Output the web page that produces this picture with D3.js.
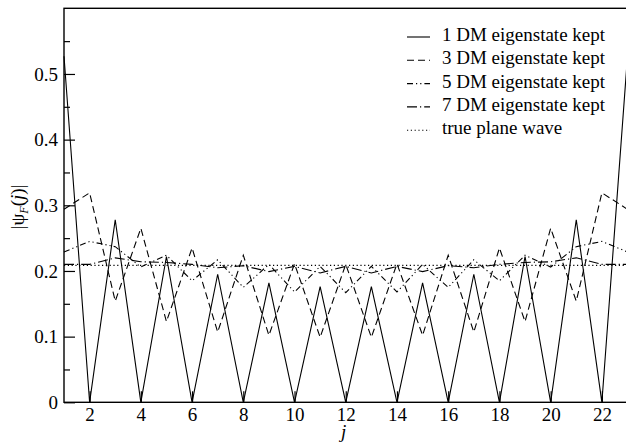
<!DOCTYPE html>
<html>
<head>
<meta charset="utf-8">
<script src="https://cdn.jsdelivr.net/npm/d3@7"></script>
<style>
  html, body { margin: 0; padding: 0; background: #fff; }
  svg { display: block; }
</style>
</head>
<body>
<div data-js-graph></div>
<script>
// site index j
const sites = d3.range(1, 24);

const dm1 = [0.527, 0, 0.278, 0, 0.222, 0, 0.195, 0, 0.182, 0, 0.176, 0, 0.176, 0, 0.182, 0, 0.195, 0, 0.222, 0, 0.278, 0, 0.527];
const dm3 = [0.294, 0.319, 0.154, 0.265, 0.123, 0.235, 0.107, 0.224, 0.102, 0.211, 0.099, 0.21, 0.099, 0.211, 0.102, 0.224, 0.107, 0.235, 0.123, 0.265, 0.154, 0.319, 0.294];
const dm5 = [0.229, 0.245, 0.237, 0.206, 0.224, 0.185, 0.217, 0.175, 0.21, 0.168, 0.207, 0.167, 0.207, 0.168, 0.21, 0.175, 0.217, 0.185, 0.224, 0.206, 0.237, 0.245, 0.229];
const dm7 = [0.21, 0.21, 0.22, 0.214, 0.213, 0.21, 0.205, 0.208, 0.199, 0.207, 0.197, 0.207, 0.197, 0.207, 0.199, 0.208, 0.205, 0.21, 0.213, 0.214, 0.22, 0.21, 0.21];
const planeWave = sites.map(() => 0.2085);

const legendLabels = ['1 DM eigenstate kept', '3 DM eigenstate kept', '5 DM eigenstate kept', '7 DM eigenstate kept', 'true plane wave'];
const xTicks = [2, 4, 6, 8, 10, 12, 14, 16, 18, 20, 22];
const yTicks = [0, 0.1, 0.2, 0.3, 0.4, 0.5];
const yMinorTicks = [0.05, 0.15, 0.25, 0.35, 0.45, 0.55];

const SETTING = {
  width: 626,
  height: 443,
  left: 64,
  right: 627.5,
  top: 8.3,
  bottom: 402.3,
  fontSize: 19,
};

const FONT = "'Times New Roman', Times, 'Liberation Serif', serif";

const series = [
  { values: dm1, dash: null },
  { values: dm3, dash: '7,4' },
  { values: dm5, dash: '6,3,1.2,3,1.2,3' },
  { values: dm7, dash: '10,3,1.2,3' },
  { values: planeWave, dash: '1.2,2.6' },
];

const svg = d3.select('[data-js-graph]').append('svg')
  .attr('width', SETTING.width)
  .attr('height', SETTING.height)
  .style('font-family', FONT);

const x = d3.scaleLinear().domain([1, 23]).range([SETTING.left, SETTING.right]);
const y = d3.scaleLinear().domain([0, 0.6]).range([SETTING.bottom, SETTING.top]);

// frame
svg.append('rect')
  .attr('x', SETTING.left)
  .attr('y', SETTING.top)
  .attr('width', SETTING.right - SETTING.left)
  .attr('height', SETTING.bottom - SETTING.top)
  .attr('fill', 'none')
  .attr('stroke', '#000')
  .attr('stroke-width', 1.4);

// y axis, ticks point inward
const yAxis = svg.append('g')
  .attr('transform', `translate(${SETTING.left},0)`)
  .call(d3.axisRight(y).tickValues(yTicks).tickSize(11).tickFormat((d) => (d === 0 ? '0' : d3.format('.1f')(d))));
yAxis.select('.domain').remove();
yAxis.selectAll('.tick line').attr('stroke-width', 1.2);
yAxis.selectAll('.tick text')
  .attr('x', -6)
  .attr('text-anchor', 'end')
  .style('font-family', FONT)
  .style('font-size', `${SETTING.fontSize}px`)
  .attr('fill', '#000');

svg.append('g')
  .attr('transform', `translate(${SETTING.left},0)`)
  .call(d3.axisRight(y).tickValues(yMinorTicks).tickSize(6).tickFormat(''))
  .call((g) => g.select('.domain').remove())
  .selectAll('.tick line').attr('stroke-width', 1.2);

// x axis
const xAxis = svg.append('g')
  .attr('transform', `translate(0,${SETTING.bottom})`)
  .call(d3.axisTop(x).tickValues(xTicks).tickSize(11).tickFormat(d3.format('d')));
xAxis.select('.domain').remove();
xAxis.selectAll('.tick line').attr('stroke-width', 1.2);
xAxis.selectAll('.tick text')
  .attr('y', 19)
  .attr('dy', 0)
  .style('font-family', FONT)
  .style('font-size', `${SETTING.fontSize}px`)
  .attr('fill', '#000');

// axis titles
svg.append('text')
  .attr('x', (SETTING.left + SETTING.right) / 2 - 2)
  .attr('y', 438)
  .attr('text-anchor', 'middle')
  .style('font-size', `${SETTING.fontSize}px`)
  .attr('font-style', 'italic')
  .text('j');

const yTitle = svg.append('text')
  .attr('transform', 'translate(24,207) rotate(-90)')
  .attr('text-anchor', 'middle')
  .style('font-size', `${SETTING.fontSize}px`);
yTitle.append('tspan').text('|ψ');
yTitle.append('tspan').style('font-size', '12px').attr('font-style', 'italic').attr('dy', 4).text('F');
yTitle.append('tspan').attr('dy', -4).text('(');
yTitle.append('tspan').attr('font-style', 'italic').text('j');
yTitle.append('tspan').text(')|');

// curves
const line = d3.line()
  .x((d, i) => x(sites[i]))
  .y((d) => y(d));

svg.append('g')
  .selectAll('path')
  .data(series)
  .enter()
  .append('path')
  .attr('d', (d) => line(d.values))
  .attr('fill', 'none')
  .attr('stroke', '#000')
  .attr('stroke-width', 1.1)
  .attr('stroke-dasharray', (d) => d.dash);

// legend
const legend = svg.append('g')
  .selectAll('g')
  .data(series)
  .enter()
  .append('g')
  .attr('transform', (d, i) => `translate(407,${41 + i * 23.3})`);

legend.append('line')
  .attr('x1', 0)
  .attr('x2', 23)
  .attr('y1', -4)
  .attr('y2', -4)
  .attr('stroke', '#000')
  .attr('stroke-width', 1.1)
  .attr('stroke-dasharray', (d) => d.dash);

legend.append('text')
  .attr('x', 35)
  .style('font-size', `${SETTING.fontSize}px`)
  .text((d, i) => legendLabels[i]);
</script>
</body>
</html>
